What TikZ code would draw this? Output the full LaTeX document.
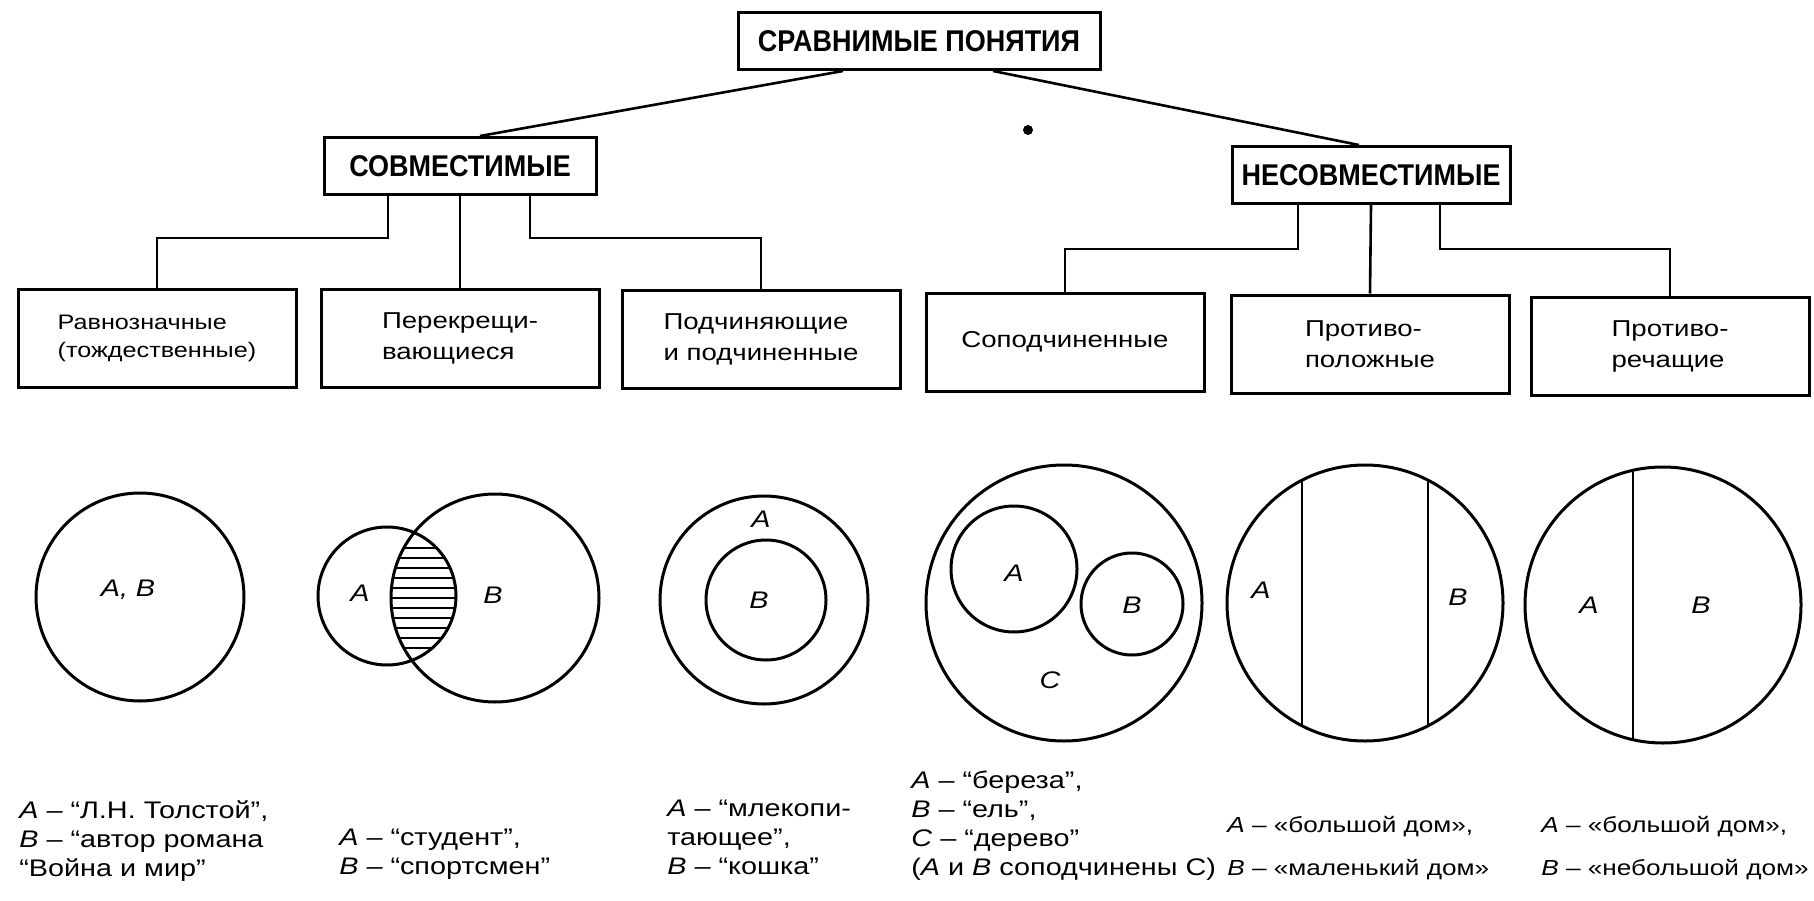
\documentclass[tikz,border=0pt]{standalone}
\usepackage{fontspec}
\setmainfont{Liberation Sans}[FakeStretch=1.2]
\newfontfamily\headfont{Liberation Sans}[FakeStretch=0.9]
\begin{document}
\begin{tikzpicture}[
    x=1pt, y=-1pt, line width=2.6pt,
    headbox/.style={draw, line width=3pt, inner sep=0pt, minimum height=57pt,
                    font=\headfont\bfseries\fontsize{30}{36}\selectfont},
    kindbox/.style={draw, line width=3pt, inner sep=0pt, minimum width=278pt,
                    minimum height=98pt, align=left,
                    font=\fontsize{23}{31}\selectfont},
    ring/.style={line width=3pt},
    setlab/.style={inner sep=0pt, font=\itshape\fontsize{24}{29}\selectfont},
    note/.style={anchor=north west, inner sep=0pt, align=left,
                 font=\fontsize{24}{29}\selectfont}]
  \useasboundingbox (0,0) rectangle (1814,901);
  % headings
  \node[headbox, minimum width=362pt] (all)    at (919,41)   {СРАВНИМЫЕ ПОНЯТИЯ};
  \node[headbox, minimum width=272pt] (comp)   at (460,166)  {СОВМЕСТИМЫЕ};
  \node[headbox, minimum width=278pt] (incomp) at (1371,175) {НЕСОВМЕСТИМЫЕ};
  \fill (1028,130) circle (5pt);
  % kinds of relation
  \node[kindbox, font=\fontsize{21}{28}\selectfont] (k1) at (157,338) {Равнозначные\\(тождественные)};
  \node[kindbox] (k2) at (460,338)  {Перекрещи-\\вающиеся};
  \node[kindbox] (k3) at (761,339)  {Подчиняющие\\и подчиненные};
  \node[kindbox] (k4) at (1065,342) {Соподчиненные};
  \node[kindbox] (k5) at (1370,344) {Противо-\\положные};
  \node[kindbox] (k6) at (1670,346) {Противо-\\речащие};
  \draw ([xshift=-76]all.south) -- ([xshift=20]comp.north);
  \draw ([xshift=74]all.south) -- ([xshift=-12]incomp.north);
  \draw ([xshift=-72]comp.south) |- (k1.north |- 0,238) -- (k1.north);
  \draw (comp.south) -- (k2.north);
  \draw ([xshift=70]comp.south) |- (k3.north |- 0,238) -- (k3.north);
  \draw ([xshift=-73]incomp.south) |- (k4.north |- 0,249) -- (k4.north);
  \draw (incomp.south) -- (k5.north);
  \draw ([xshift=69]incomp.south) |- (k6.north |- 0,249) -- (k6.north);
  % circles
  \draw[ring] (140,597) circle (104pt);
  \node[setlab] (ab1) at (128,590) {A, B};
  \begin{scope}
    \clip (387,596) circle (69pt);
    \clip (495,598) circle (104pt);
    \foreach \y in {548,558,...,648}
      \draw[line width=1.5pt] (380,\y) -- (470,\y);
  \end{scope}
  \draw[ring] (387,596) circle (69pt) (495,598) circle (104pt);
  \node[setlab] (a2) at (360,593) {A};
  \node[setlab] (b2) at (493,595) {B};
  \draw[ring] (764,600) circle (104pt) (766,600) circle (60pt);
  \node[setlab] (a3) at (761,519) {A};
  \node[setlab] (b3) at (759,600) {B};
  \draw[ring] (1064,603) circle (138pt) (1014,569) circle (63pt) (1132,604) circle (51pt);
  \node[setlab] (a4) at (1014,573) {A};
  \node[setlab] (b4) at (1132,605) {B};
  \node[setlab] (c4) at (1050,680) {C};
  \draw[ring] (1365,603) circle (138pt);
  \begin{scope}
    \clip (1365,603) circle (138pt);
    \draw[line width=2pt] (1302,440) -- (1302,760) (1428,440) -- (1428,760);
  \end{scope}
  \node[setlab] (a5) at (1261,590) {A};
  \node[setlab] (b5) at (1458,597) {B};
  \draw[ring] (1663,605) circle (138pt);
  \begin{scope}
    \clip (1663,605) circle (138pt);
    \draw[line width=2pt] (1633,440) -- (1633,760);
  \end{scope}
  \node[setlab] (a6) at (1589,605) {A};
  \node[setlab] (b6) at (1701,605) {B};
  % examples
  \node[note] (t1) at (18,799)   {\textit{A} – “Л.Н. Толстой”,\\\textit{B} – “автор романа\\“Война и мир”};
  \node[note] (t2) at (338,828)  {\textit{A} – “студент”,\\\textit{B} – “спортсмен”};
  \node[note] (t3) at (666,799)  {\textit{A} – “млекопи-\\тающее”,\\\textit{B} – “кошка”};
  \node[note] (t4) at (910,770)  {\textit{A} – “береза”,\\\textit{B} – “ель”,\\\textit{C} – “дерево”\\(\textit{A} и \textit{B} соподчинены С)};
  \node[note, font=\fontsize{21.8}{29}\selectfont] (t5) at (1226,815) {\textit{A} – «большой дом»,\\[14pt]\textit{B} – «маленький дом»};
  \node[note, font=\fontsize{21.8}{29}\selectfont] (t6) at (1540,815) {\textit{A} – «большой дом»,\\[14pt]\textit{B} – «небольшой дом»};
\end{tikzpicture}
\end{document}
